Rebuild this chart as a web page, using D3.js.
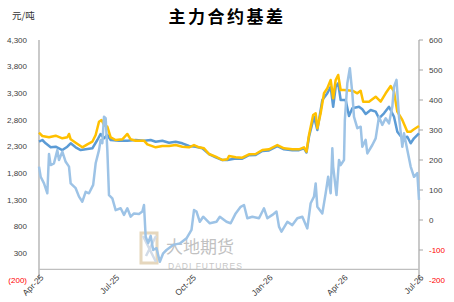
<!DOCTYPE html>
<html><head><meta charset="utf-8">
<script src="https://cdn.jsdelivr.net/npm/d3@7"></script>
<style>body{margin:0;background:#fff}svg{display:block}</style>
</head><body>
<svg id="c" width="454" height="302"></svg>
<script>
const title = "主力合约基差";
const unitLabel = "元/吨";
const xTickLabels = ["2025-04-01","2025-07-01","2025-10-01","2026-01-01","2026-04-01","2026-07-01"];
const leftTicks = [-200,300,800,1300,1800,2300,2800,3300,3800,4300];
const rightTicks = [-200,-100,0,100,200,300,400,500,600];

// dark blue series (left axis)
const seriesBlue = [
["2025-04-01",2393],["2025-04-05",2425],["2025-04-09",2363],["2025-04-15",2288],["2025-04-21",2299],["2025-04-29",2237],["2025-05-05",2299],["2025-05-09",2363],["2025-05-15",2288],["2025-05-21",2237],["2025-05-27",2250],["2025-06-04",2269],["2025-06-10",2425],["2025-06-14",2538],["2025-06-18",2457],["2025-06-22",2519],["2025-06-26",2425],["2025-07-06",2412],["2025-07-16",2412],["2025-07-26",2425],["2025-08-05",2412],["2025-08-13",2425],["2025-08-19",2393],["2025-08-27",2412],["2025-09-04",2374],["2025-09-12",2393],["2025-09-20",2363],["2025-09-28",2312],["2025-10-06",2299],["2025-10-14",2269],["2025-10-22",2162],["2025-10-30",2100],["2025-11-07",2050],["2025-11-13",2050],["2025-11-23",2080],["2025-12-01",2075],["2025-12-09",2140],["2025-12-17",2145],["2025-12-25",2220],["2026-01-02",2230],["2026-01-12",2310],["2026-01-20",2250],["2026-01-30",2235],["2026-02-07",2235],["2026-02-13",2270],["2026-02-16",2190],["2026-02-19",2487],["2026-02-25",2862],["2026-03-01",2612],["2026-03-07",3175],["2026-03-13",3301],["2026-03-17",3424],["2026-03-20",3049],["2026-03-23",3424],["2026-03-26",3488],["2026-03-29",3175],["2026-04-04",3175],["2026-04-08",2875],["2026-04-12",3019],["2026-04-20",3049],["2026-04-24",3001],["2026-04-28",2912],["2026-05-04",2987],["2026-05-10",2956],["2026-05-14",2832],["2026-05-20",2926],["2026-05-26",3049],["2026-06-01",2862],["2026-06-05",2581],["2026-06-11",2457],["2026-06-17",2487],["2026-06-21",2363],["2026-06-25",2457],["2026-07-01",2551]
];
// gold series (left axis)
const seriesGold = [
["2025-04-01",2562],["2025-04-05",2500],["2025-04-13",2476],["2025-04-21",2506],["2025-04-29",2457],["2025-05-05",2476],["2025-05-07",2538],["2025-05-09",2438],["2025-05-15",2374],["2025-05-23",2288],["2025-05-29",2344],["2025-06-04",2393],["2025-06-08",2519],["2025-06-12",2768],["2025-06-15",2800],["2025-06-18",2706],["2025-06-22",2674],["2025-06-26",2476],["2025-07-02",2425],["2025-07-10",2438],["2025-07-16",2538],["2025-07-20",2438],["2025-07-26",2412],["2025-08-05",2412],["2025-08-09",2344],["2025-08-19",2288],["2025-08-27",2312],["2025-09-04",2312],["2025-09-12",2331],["2025-09-20",2299],["2025-09-28",2288],["2025-10-04",2331],["2025-10-10",2288],["2025-10-16",2269],["2025-10-22",2162],["2025-10-30",2112],["2025-11-07",2050],["2025-11-13",2063],["2025-11-15",2125],["2025-11-23",2100],["2025-12-01",2093],["2025-12-09",2157],["2025-12-17",2163],["2025-12-25",2237],["2026-01-02",2250],["2026-01-12",2331],["2026-01-20",2269],["2026-01-30",2250],["2026-02-07",2250],["2026-02-13",2288],["2026-02-16",2206],["2026-02-19",2519],["2026-02-24",2894],["2026-02-27",2926],["2026-03-01",2644],["2026-03-05",2926],["2026-03-09",3301],["2026-03-13",3394],["2026-03-17",3550],["2026-03-20",3207],["2026-03-23",3550],["2026-03-26",3644],["2026-03-29",3362],["2026-04-02",3362],["2026-04-12",3349],["2026-04-18",3301],["2026-04-22",3349],["2026-04-25",3143],["2026-05-02",3143],["2026-05-10",3237],["2026-05-16",3143],["2026-05-22",3301],["2026-05-28",3437],["2026-06-01",3331],["2026-06-05",2956],["2026-06-11",2800],["2026-06-17",2581],["2026-06-21",2581],["2026-06-25",2626],["2026-07-01",2687]
];
// basis (right axis)
const seriesBasis = [
["2025-04-01",178],["2025-04-03",144],["2025-04-07",122],["2025-04-11",89],["2025-04-13",220],["2025-04-15",183],["2025-04-19",189],["2025-04-23",233],["2025-04-25",200],["2025-04-29",228],["2025-05-03",194],["2025-05-07",178],["2025-05-09",122],["2025-05-15",106],["2025-05-19",78],["2025-05-23",61],["2025-05-27",94],["2025-05-31",89],["2025-06-05",117],["2025-06-08",189],["2025-06-12",233],["2025-06-14",267],["2025-06-16",256],["2025-06-18",344],["2025-06-20",339],["2025-06-22",233],["2025-06-24",83],["2025-06-28",72],["2025-07-02",33],["2025-07-08",39],["2025-07-12",17],["2025-07-16",39],["2025-07-20",11],["2025-07-24",22],["2025-07-30",20],["2025-08-03",28],["2025-08-05",50],["2025-08-07",-56],["2025-08-10",-77],["2025-08-13",-53],["2025-08-16",-100],["2025-08-20",-94],["2025-08-24",-139],["2025-08-28",-111],["2025-09-01",-100],["2025-09-09",-83],["2025-09-17",-78],["2025-09-25",-61],["2025-10-01",-33],["2025-10-04",33],["2025-10-07",28],["2025-10-11",-6],["2025-10-15",11],["2025-10-23",-11],["2025-10-31",-6],["2025-11-04",11],["2025-11-12",-6],["2025-11-17",-11],["2025-11-23",22],["2025-11-29",44],["2025-12-03",50],["2025-12-07",6],["2025-12-13",11],["2025-12-21",6],["2025-12-27",39],["2025-12-31",6],["2026-01-06",17],["2026-01-11",28],["2026-01-14",-22],["2026-01-17",-39],["2026-01-24",-6],["2026-01-30",-17],["2026-02-05",6],["2026-02-11",11],["2026-02-17",-28],["2026-02-21",56],["2026-02-25",78],["2026-02-27",122],["2026-03-01",44],["2026-03-07",22],["2026-03-11",89],["2026-03-14",144],["2026-03-17",89],["2026-03-19",239],["2026-03-20",178],["2026-03-24",83],["2026-03-27",200],["2026-03-29",183],["2026-04-02",200],["2026-04-03",333],["2026-04-06",456],["2026-04-09",506],["2026-04-12",422],["2026-04-14",344],["2026-04-18",306],["2026-04-22",311],["2026-04-24",244],["2026-04-28",267],["2026-04-30",222],["2026-05-06",250],["2026-05-10",272],["2026-05-14",344],["2026-05-18",317],["2026-05-22",339],["2026-05-26",322],["2026-05-30",378],["2026-06-01",444],["2026-06-04",467],["2026-06-07",344],["2026-06-11",244],["2026-06-13",289],["2026-06-17",233],["2026-06-21",178],["2026-06-25",144],["2026-06-29",156],["2026-07-01",67]
];

const parse = d3.timeParse("%Y-%m-%d");
const svg = d3.select("#c");
const L = 39, R = 419, T = 40, B = 280;
const x = d3.scaleTime().domain([parse("2025-04-01"), parse("2026-07-01")]).range([L, R]);
const yL = d3.scaleLinear().domain([-200, 4300]).range([B, T]);
const yR = d3.scaleLinear().domain([-200, 600]).range([B, T]);
const fmtL = v => v < 0 ? "(" + d3.format(",")(-v) + ")" : d3.format(",")(v);
const font = "'Liberation Sans', Arial, sans-serif";

// title
svg.append("text").attr("x", 227).attr("y", 23).attr("text-anchor", "middle")
  .style("font-family", "'Noto Sans CJK SC', sans-serif").style("font-weight", "bold")
  .style("font-size", "17px").style("letter-spacing", "2.5px").attr("fill", "#000").text(title);
svg.append("text").attr("x", 12).attr("y", 19).style("font-family", "'Noto Sans CJK SC', sans-serif")
  .style("font-size", "9.5px").attr("fill", "#333").text(unitLabel);

// watermark
const wm = svg.append("g").attr("opacity", 0.65);
wm.append("rect").attr("x", 141).attr("y", 233).attr("width", 16).attr("height", 30).attr("fill", "none")
  .attr("stroke", "#d9c39a").attr("stroke-width", 3);
wm.append("path").attr("d", "M143,236 L156,262 M156,236 L146,256").attr("stroke", "#b9c9dc").attr("stroke-width", 2.5).attr("fill","none");
wm.append("text").attr("x", 166).attr("y", 253).style("font-family", "'Noto Sans CJK SC', sans-serif")
  .style("font-size", "17px").attr("fill", "#a0a0a0").text("大地期货");
wm.append("text").attr("x", 168).attr("y", 269).style("font-family", font)
  .style("font-size", "8.5px").style("letter-spacing", "1px").attr("fill", "#a8a8a8").text("DADI FUTURES");

// axes lines
svg.append("line").attr("x1", L).attr("x2", L).attr("y1", T).attr("y2", B).attr("stroke", "#a6a6a6").attr("stroke-width", 1.2);
svg.append("line").attr("x1", R).attr("x2", R).attr("y1", T).attr("y2", B).attr("stroke", "#a6a6a6").attr("stroke-width", 1.2);
svg.append("line").attr("x1", L).attr("x2", R).attr("y1", yL(0)).attr("y2", yL(0)).attr("stroke", "#bfbfbf").attr("stroke-width", 1.2);

// left ticks
svg.append("g").selectAll("text").data(leftTicks).join("text")
  .attr("x", 27).attr("y", d => yL(d)).attr("dy", "0.35em").attr("text-anchor", "end")
  .style("font-family", font).style("font-size", "8px")
  .attr("fill", d => d < 0 ? "#ff0000" : "#404040").text(fmtL);

// right ticks
const gr = svg.append("g");
gr.selectAll("line").data(rightTicks).join("line")
  .attr("x1", R).attr("x2", R + 4).attr("y1", d => yR(d)).attr("y2", d => yR(d)).attr("stroke", "#a6a6a6");
gr.selectAll("text").data(rightTicks).join("text")
  .attr("x", 429).attr("y", d => yR(d)).attr("dy", "0.35em")
  .style("font-family", font).style("font-size", "8px")
  .attr("fill", d => d < 0 ? "#ff0000" : "#404040").text(d => d);

// x labels
const fmtX = d3.timeFormat("%b-%y");
svg.append("g").selectAll("text").data(xTickLabels.map(parse)).join("text")
  .attr("transform", d => `translate(${x(d) + 3},${276}) rotate(-45)`)
  .attr("text-anchor", "end").attr("dy", "0.35em")
  .style("font-family", font).style("font-size", "8.5px").attr("fill", "#404040").text(fmtX);

// lines
const lineL = d3.line().x(d => x(parse(d[0]))).y(d => yL(d[1]));
const lineR = d3.line().x(d => x(parse(d[0]))).y(d => yR(d[1]));
svg.append("path").datum(seriesBlue).attr("d", lineL).attr("fill", "none").attr("stroke", "#5b9bd5").attr("stroke-width", 2.5).attr("stroke-linejoin", "round");
svg.append("path").datum(seriesGold).attr("d", lineL).attr("fill", "none").attr("stroke", "#ffc000").attr("stroke-width", 2.5).attr("stroke-linejoin", "round");
svg.append("path").datum(seriesBasis).attr("d", lineR).attr("fill", "none").attr("stroke", "#9dc3e6").attr("stroke-width", 2.5).attr("stroke-linejoin", "round");
</script>
</body></html>
